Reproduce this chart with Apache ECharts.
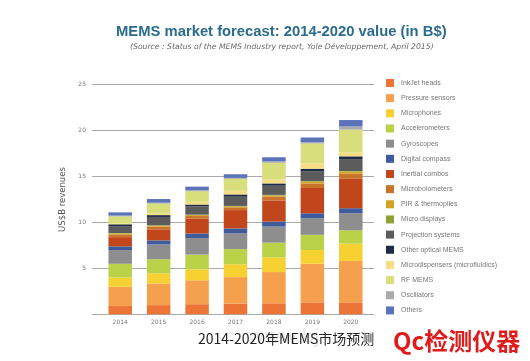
<!DOCTYPE html>
<html><head><meta charset="utf-8">
<script src="https://cdn.jsdelivr.net/npm/echarts@6/dist/echarts.min.js"></script>
<style>html,body{margin:0;padding:0;background:#fff}#c{width:530px;height:361px}</style>
</head><body><div id="c"></div>
<script>
const years = ['2014','2015','2016','2017','2018','2019','2020'];
const yMax = 25;
const yStep = 5;

const inkjetHeads      = [0.9, 1.0, 1.1, 1.15, 1.2, 1.3, 1.3];
const pressureSensors  = [2.1, 2.35, 2.6, 2.9, 3.4, 4.2, 4.5];
const microphones      = [1.0, 1.1, 1.2, 1.4, 1.6, 1.5, 1.9];
const accelerometers   = [1.5, 1.55, 1.6, 1.65, 1.6, 1.65, 1.45];
const gyroscopes       = [1.5, 1.6, 1.8, 1.7, 1.75, 1.8, 1.85];
const digitalCompass   = [0.4, 0.45, 0.5, 0.55, 0.55, 0.55, 0.55];
const inertialCombos   = [1.0, 1.2, 1.6, 2.0, 2.3, 2.75, 3.2];
const microbolometers  = [0.3, 0.3, 0.3, 0.3, 0.4, 0.5, 0.55];
const pirThermopiles   = [0.1, 0.1, 0.1, 0.1, 0.15, 0.2, 0.25];
const microDisplays    = [0.05, 0.05, 0.05, 0.05, 0.05, 0.05, 0.05];
const projectionSys    = [0.7, 0.9, 0.9, 1.0, 1.0, 1.05, 1.3];
const otherOptical     = [0.25, 0.2, 0.2, 0.25, 0.25, 0.3, 0.3];
const microdispensers  = [0.1, 0.15, 0.3, 0.4, 0.45, 0.6, 0.4];
const rfMems           = [0.75, 1.1, 1.15, 1.3, 1.8, 2.15, 2.5];
const oscillators      = [0.1, 0.1, 0.1, 0.1, 0.15, 0.15, 0.35];
const others           = [0.35, 0.4, 0.4, 0.4, 0.45, 0.5, 0.7];

const seriesNames = ['InkJet heads','Pressure sensors','Microphones','Accelerometers','Gyroscopes','Digital compass','Inertial combos','Microbolometers','PIR & thermopiles','Micro displays','Projection systems','Other optical MEMS','Microdispensers (microfluidics)','RF MEMS','Oscillators','Others'];
const seriesValues = [inkjetHeads, pressureSensors, microphones, accelerometers, gyroscopes, digitalCompass, inertialCombos, microbolometers, pirThermopiles, microDisplays, projectionSys, otherOptical, microdispensers, rfMems, oscillators, others];

const palette = ['#EC7436','#F4A04C','#F6D131','#B9D247','#8E8E8E','#3E5B9C','#C2461C','#C9732B','#D3A126','#8CA232','#5C5C5C','#1F2A44','#F5DD84','#D8DE7C','#ABABAB','#5B73B9'];

const chart = echarts.init(document.getElementById('c'));
const gridTop = 84.7, gridBottom = 46.7;
chart.setOption({
  backgroundColor: '#fff',
  animation: false,
  color: palette,
  grid: [
    {left: 101, right: 160, top: gridTop, bottom: gridBottom},
    {left: 92, right: 156, top: gridTop, bottom: gridBottom}
  ],
  xAxis: [
    {gridIndex: 0, type: 'category', data: years,
     axisLine: {show: false}, axisTick: {show: false},
     axisLabel: {fontSize: 6, color: '#777', margin: 5, fontFamily: 'DejaVu Sans'}},
    {gridIndex: 1, type: 'value', show: false, min: 0, max: 1}
  ],
  yAxis: [
    {gridIndex: 0, type: 'value', min: 0, max: yMax, interval: yStep, show: false},
    {gridIndex: 1, type: 'value', min: 0, max: yMax, interval: yStep,
     axisLine: {show: false}, axisTick: {show: false},
     axisLabel: {fontSize: 6, color: '#777', margin: 6, fontFamily: 'DejaVu Sans',
                 formatter: v => v === 0 ? '' : String(v)},
     splitLine: {lineStyle: {color: '#aaaaaa', width: 1}},
     name: 'US$B revenues', nameLocation: 'middle', nameRotate: 90, nameGap: 23,
     nameTextStyle: {fontSize: 8.5, color: '#555', fontFamily: 'DejaVu Sans'}}
  ],
  legend: {
    data: seriesNames, orient: 'vertical', left: 386, top: 79, padding: 0,
    itemWidth: 8, itemHeight: 8, itemGap: 7.16, icon: 'rect',
    textStyle: {fontSize: 7, lineHeight: 8, color: '#777', fontFamily: 'Liberation Sans', padding: [0,0,0,2]}
  },
  series: seriesNames.map((n, i) => ({
    name: n, type: 'bar', stack: 'mems', xAxisIndex: 0, yAxisIndex: 0,
    barWidth: 23.5, data: seriesValues[i],
    itemStyle: {color: palette[i]}
  })),
  graphic: [
    {type: 'text', left: 116, top: 24, style: {text: 'MEMS market forecast: 2014-2020 value (in B$)', fill: '#2B6C8E', font: 'bold 14.8px "Liberation Sans"'}},
    {type: 'text', left: 130, top: 43, style: {text: '(Source : Status of the MEMS Industry report, Yole Développement, April 2015)', fill: '#666', font: 'italic 7.7px "DejaVu Sans"'}},
    {type: 'text', left: 248, top: 328, style: {text: 'www.bj', fill: 'rgba(180,180,180,0.35)', font: '20px "DejaVu Sans"'}},
    {type: 'text', left: 198, top: 332, style: {text: '2014-2020年MEMS市场预测', fill: '#222', font: '14px "Noto Sans CJK SC"'}},
    {type: 'text', left: 393, top: 329, style: {text: 'Qc检测仪器', fill: '#E01B1B', font: 'bold 24px "Noto Sans CJK SC"'}}
  ]
});
</script></body></html>
